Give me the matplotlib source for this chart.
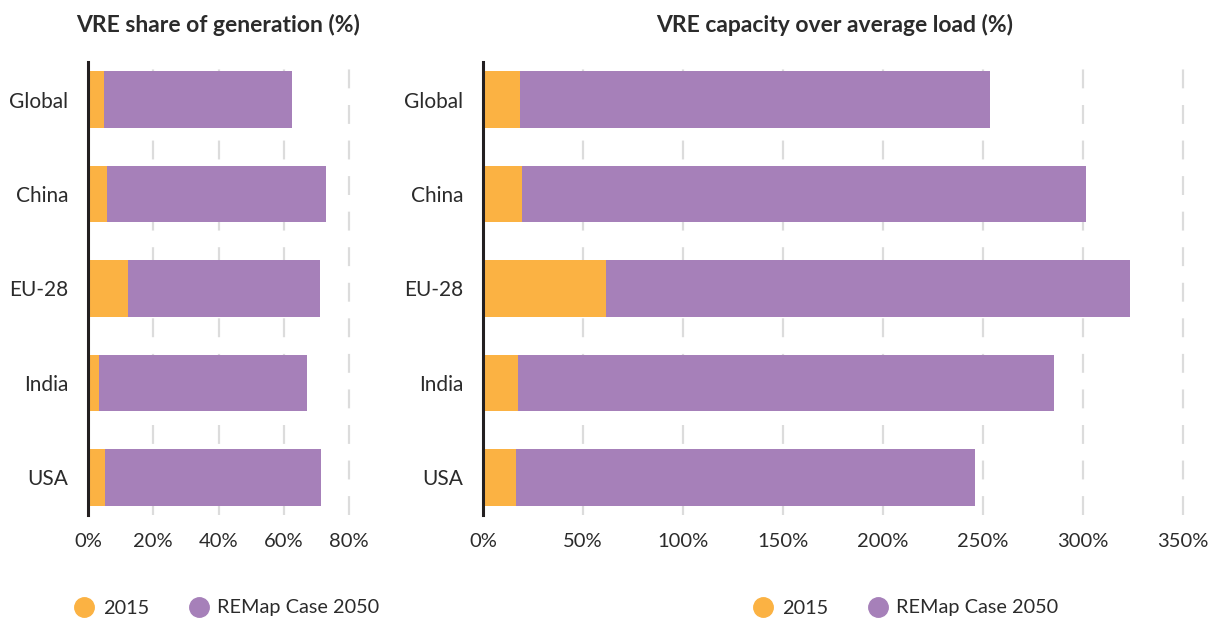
import matplotlib.pyplot as plt
from matplotlib.lines import Line2D

regions = ['Global', 'China', 'EU-28', 'India', 'USA']

# VRE share of generation (%)
share_2015 = [4.9, 5.8, 12.3, 3.4, 5.2]
share_2050 = [62.6, 73.0, 71.2, 67.2, 71.5]

# VRE capacity over average load (%)
cap_2015 = [18.5, 19.5, 61.5, 17.5, 16.5]
cap_2050 = [253.5, 301.5, 323.5, 285.5, 246.0]

share_ticks = [0, 20, 40, 60, 80]
cap_ticks = [0, 50, 100, 150, 200, 250, 300, 350]

c2015 = '#FBB243'
c2050 = '#A680B9'
grid_c = '#DCDCDC'
txt_c = '#2B2B2B'

plt.rcParams['font.family'] = ['Lato', 'DejaVu Sans']

fig = plt.figure(figsize=(12.16, 6.21), dpi=100)

W, H = 1216.0, 621.0
bottom = 1 - 515 / H
height = 453 / H
ax1 = fig.add_axes([88 / W, bottom, 261 / W, height])
ax2 = fig.add_axes([483 / W, bottom, 700 / W, height])


def draw(ax, v15, v50, ticks, title, title_x):
    y = range(len(regions))
    ax.barh(y, v50, height=0.6, color=c2050, zorder=3)
    ax.barh(y, v15, height=0.6, color=c2015, zorder=4)
    ax.set_ylim(len(regions) - 0.6, -0.4)
    ax.set_xlim(ticks[0], ticks[-1])
    ax.set_yticks(list(y))
    ax.set_yticklabels(regions, fontsize=15, color=txt_c)
    ax.set_xticks(ticks)
    ax.set_xticklabels(['%d%%' % t for t in ticks], fontsize=14.5, color=txt_c)
    ax.tick_params(axis='y', length=0, pad=14)
    ax.tick_params(axis='x', length=0, pad=13)
    for t in ticks[1:]:
        ax.axvline(t, color=grid_c, lw=1.6, ls=(0, (8.5, 7.5)), zorder=1, clip_on=False)
    for s in ['top', 'right', 'bottom']:
        ax.spines[s].set_visible(False)
    ax.spines['left'].set_color('#231F20')
    ax.spines['left'].set_linewidth(2.2)
    ax.spines['left'].set_zorder(5)
    fig.text(title_x, 1 - 25 / H, title, ha='center', va='center',
             fontsize=16.5, fontweight='bold', color=txt_c)


draw(ax1, share_2015, share_2050, share_ticks, 'VRE share of generation (%)', 218 / W)
draw(ax2, cap_2015, cap_2050, cap_ticks, 'VRE capacity over average load (%)', 835 / W)


def legend(x):
    handles = [
        Line2D([], [], ls='', marker='o', markersize=14, color=c2015, label='2015'),
        Line2D([], [], ls='', marker='o', markersize=14, color=c2050, label='REMap Case 2050'),
    ]
    leg = fig.legend(handles=handles, loc='center left', bbox_to_anchor=(x / W, 1 - 608 / H),
                     ncol=2, frameon=False, fontsize=14.3, handlelength=1.05,
                     handletextpad=0.4, columnspacing=2.0, borderpad=0, borderaxespad=0)
    for t in leg.get_texts():
        t.set_color(txt_c)


legend(74)
legend(753)

fig.savefig('out.png', dpi=100)
